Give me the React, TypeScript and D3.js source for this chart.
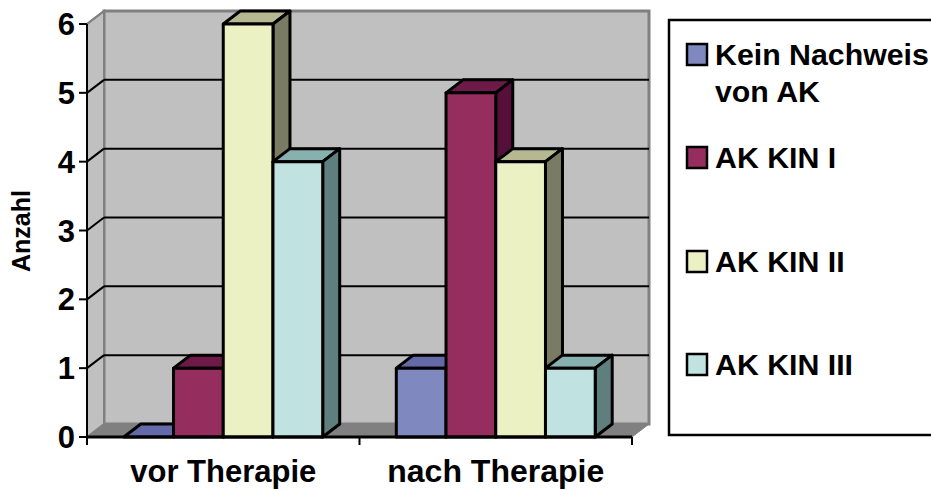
import React from "react";
import * as d3 from "d3";

const categories = ["vor Therapie", "nach Therapie"];
const seriesNames = ["Kein Nachweis von AK", "AK KIN I", "AK KIN II", "AK KIN III"];
const vorValues = [0, 1, 6, 4];
const nachValues = [1, 5, 4, 1];
const yTicks = [0, 1, 2, 3, 4, 5, 6];
const frontColors = ["#8088c0", "#962d5f", "#ecf1c4", "#c0e2e0"];
const topColors = ["#646aa8", "#6d1a49", "#b6b892", "#88b0ae"];
const sideColors = ["#4c5080", "#55103a", "#797b62", "#5e7f7e"];
const legendLines = [["Kein Nachweis", "von AK"], ["AK KIN I"], ["AK KIN II"], ["AK KIN III"]];
const legendKeyY = [54, 157, 261, 364];

const W = 931, H = 490;
const DX = 17, DY = -13;
const FONT = "'Liberation Sans', Arial, sans-serif";

export default function App() {
  const y = d3.scaleLinear().domain([0, 6]).range([437, 24]);
  const x0 = d3.scaleBand().domain(categories).range([87, 632]);
  const x1 = d3.scaleBand().domain(seriesNames).range([0, x0.bandwidth()]).paddingOuter(0.74).paddingInner(0);
  const values = [vorValues, nachValues];
  const y0 = y(0), yT = y(6), xL = x0.range()[0], xR = x0.range()[1];
  const pts = (a: number[][]) => a.map((p) => p.join(",")).join(" ");
  return (
    <svg width={W} height={H} viewBox={`0 0 ${W} ${H}`} style={{ position: "absolute", left: 0, top: 0, background: "#fff" }}>
      {/* walls */}
      <polygon points={pts([[xL + DX, yT + DY], [xR + DX, yT + DY], [xR + DX, y0 + DY], [xL + DX, y0 + DY]])} fill="#c0c0c0" stroke="#808080" strokeWidth={3} />
      <polygon points={pts([[xL, yT], [xL + DX, yT + DY], [xL + DX, y0 + DY], [xL, y0]])} fill="#c0c0c0" stroke="#808080" strokeWidth={2} />
      <polygon points={pts([[xL, y0], [xL + DX, y0 + DY], [xR + DX, y0 + DY], [xR, y0]])} fill="#808080" stroke="#808080" strokeWidth={1} />
      {/* gridlines */}
      {yTicks.slice(1, -1).map((t) => (
        <g key={t} stroke="#000" strokeWidth={2} fill="none">
          <line x1={xL + DX} x2={xR + DX} y1={y(t) + DY} y2={y(t) + DY} />
          <line x1={xL} x2={xL + DX} y1={y(t)} y2={y(t) + DY} />
        </g>
      ))}
      <line x1={xL} x2={xL + DX} y1={yT} y2={yT + DY} stroke="#808080" strokeWidth={2} />
      {/* bars */}
      {categories.map((c, ci) =>
        seriesNames.map((s, si) => {
          const v = values[ci][si];
          const l = x0(c)! + x1(s)!;
          const r = l + x1.bandwidth();
          const t = y(v);
          return (
            <g key={c + s} stroke="#000" strokeWidth={3} strokeLinejoin="round">
              <polygon points={pts([[l, t], [l + DX, t + DY], [r + DX, t + DY], [r, t]])} fill={topColors[si]} />
              {v > 0 && (
                <>
                  <polygon points={pts([[r, t], [r + DX, t + DY], [r + DX, y0 + DY], [r, y0]])} fill={sideColors[si]} />
                  <rect x={l} y={t} width={r - l} height={y0 - t} fill={frontColors[si]} />
                </>
              )}
            </g>
          );
        })
      )}
      {/* axes */}
      <line x1={xL} x2={xL} y1={yT} y2={y0 + 8} stroke="#000" strokeWidth={2} />
      <line x1={xL} x2={xR} y1={y0} y2={y0} stroke="#000" strokeWidth={3} />
      {yTicks.map((t) => (
        <g key={t}>
          <line x1={xL - 8} x2={xL} y1={y(t)} y2={y(t)} stroke="#000" strokeWidth={2} />
          <text x={75} y={y(t) + 11} textAnchor="end" fontFamily={FONT} fontWeight="bold" fontSize={31} fill="#000">{t}</text>
        </g>
      ))}
      {[xL, xL + x0.step(), xR].map((p) => (
        <line key={p} x1={p} x2={p} y1={y0} y2={y0 + 8} stroke="#000" strokeWidth={2} />
      ))}
      {categories.map((c, i) => (
        <text key={c} x={x0(c)! + x0.bandwidth() / 2} y={482} textAnchor="middle" fontFamily={FONT} fontWeight="bold" fontSize={i === 0 ? 31 : 32} fill="#000">{c}</text>
      ))}
      <text transform="translate(30,231) rotate(-90)" textAnchor="middle" fontFamily={FONT} fontWeight="bold" fontSize={25} fill="#000">Anzahl</text>
      {/* legend */}
      <rect x={669} y={20} width={300} height={415} fill="#fff" stroke="#000" strokeWidth={2.5} />
      {seriesNames.map((s, i) => (
        <g key={s}>
          <rect x={687} y={legendKeyY[i] - 10} width={20} height={21} fill={frontColors[i]} stroke="#000" strokeWidth={2.5} />
          {legendLines[i].map((line, j) => (
            <text key={line} x={715} y={legendKeyY[i] + 11 + j * 37} fontFamily={FONT} fontWeight="bold" fontSize={30.3} fill="#000">{line}</text>
          ))}
        </g>
      ))}
    </svg>
  );
}
